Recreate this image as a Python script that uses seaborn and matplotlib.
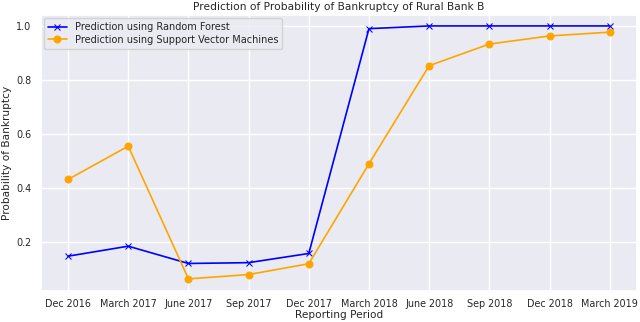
import pandas as pd
import matplotlib.pyplot as plt
import seaborn as sns

periods = ["Dec 2016", "March 2017", "June 2017", "Sep 2017", "Dec 2017",
           "March 2018", "June 2018", "Sep 2018", "Dec 2018", "March 2019"]
random_forest = [0.148, 0.185, 0.121, 0.124, 0.158, 0.99, 1.0, 1.0, 1.0, 1.0]
svm = [0.432, 0.555, 0.064, 0.08, 0.12, 0.49, 0.853, 0.933, 0.963, 0.977]

sns.set_theme(style="darkgrid")

data = pd.DataFrame({"period": periods, "rf": random_forest, "svm": svm})

fig, ax = plt.subplots(figsize=(6.4, 3.22), dpi=100)
sns.lineplot(data=data, x="period", y="rf", sort=False, color="blue",
             marker="x", markersize=5, markeredgecolor="blue", linewidth=1.2,
             label="Prediction using Random Forest", ax=ax)
sns.lineplot(data=data, x="period", y="svm", sort=False, color="orange",
             marker="o", markersize=5, markeredgecolor="orange", linewidth=1.2,
             label="Prediction using Support Vector Machines", ax=ax)

ax.set_ylim(0.02, 1.04)
ax.set_yticks([0.2, 0.4, 0.6, 0.8, 1.0])
ax.tick_params(axis="x", labelsize=6.9, pad=0)
ax.tick_params(axis="y", labelsize=6.9, pad=1)
ax.set_title("Prediction of Probability of Bankruptcy of Rural Bank B", fontsize=7.7, pad=4)
ax.set_xlabel("Reporting Period", fontsize=7.6, labelpad=1)
ax.set_ylabel("Probability of Bankruptcy", fontsize=7.6, labelpad=3)
ax.legend(loc="upper left", fontsize=7.0, labelspacing=0.3, borderaxespad=0.3)

plt.subplots_adjust(left=0.064, right=0.995, top=0.953, bottom=0.097)
plt.savefig("out.png")
